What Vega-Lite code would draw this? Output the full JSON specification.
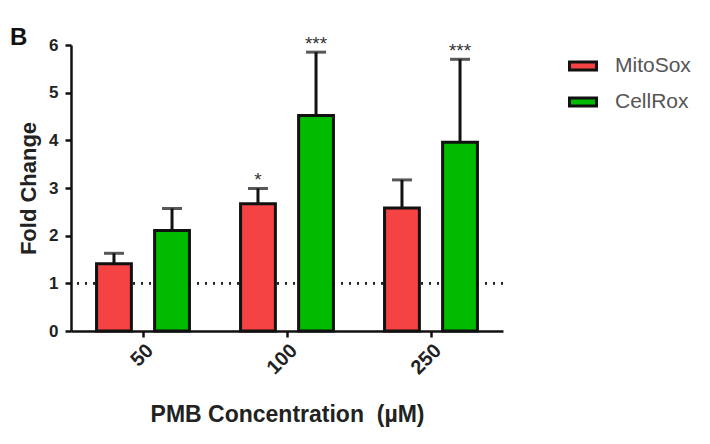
{
  "$schema": "https://vega.github.io/schema/vega-lite/v6.json",
  "width": 432,
  "height": 286,
  "autosize": {"type": "none"},
  "padding": {"left": 71, "top": 45, "right": 207, "bottom": 113},
  "background": "white",
  "title": {"text": "B", "anchor": "start", "frame": "group", "dx": -61, "dy": 17, "offset": 2, "fontSize": 24, "fontWeight": "bold", "font": "Liberation Sans", "color": "#111"},
  "data": {
    "values": [
      {"conc": "50", "probe": "MitoSox", "mean": 1.41, "upper": 1.63, "star": ""},
      {"conc": "50", "probe": "CellRox", "mean": 2.11, "upper": 2.57, "star": ""},
      {"conc": "100", "probe": "MitoSox", "mean": 2.67, "upper": 2.99, "star": "*"},
      {"conc": "100", "probe": "CellRox", "mean": 4.52, "upper": 5.85, "star": "***"},
      {"conc": "250", "probe": "MitoSox", "mean": 2.58, "upper": 3.17, "star": ""},
      {"conc": "250", "probe": "CellRox", "mean": 3.96, "upper": 5.70, "star": "***"}
    ]
  },
  "config": {
    "view": {"stroke": null},
    "font": "Liberation Sans",
    "axis": {"grid": false, "domainColor": "#111", "tickColor": "#111", "domainWidth": 2.5, "tickWidth": 2.5, "tickSize": 6, "labelColor": "#222", "labelFont": "Liberation Sans", "labelFontWeight": "bold", "labelFontSize": 17, "titleFont": "Liberation Sans", "titleFontWeight": "bold", "titleFontSize": 22, "titleColor": "#222"}
  },
  "encoding": {
    "x": {"field": "conc", "type": "ordinal", "sort": ["50", "100", "250"], "scale": {"paddingInner": 0, "paddingOuter": 0},
      "axis": {"title": "PMB Concentration \u00a0(µM)", "labelAngle": -45, "labelFontSize": 20, "labelPadding": 3, "titlePadding": 26, "titleFontSize": 23}},
    "xOffset": {"field": "probe", "type": "nominal", "sort": ["MitoSox", "CellRox"], "scale": {"paddingInner": 0.4, "paddingOuter": 0.44}}
  },
  "layer": [
    {
      "mark": {"type": "rule", "strokeDash": [2, 6], "strokeWidth": 2, "color": "#222"},
      "encoding": {"y": {"datum": 1, "type": "quantitative"}, "x": null, "xOffset": null}
    },
    {
      "mark": {"type": "rule", "strokeWidth": 3, "color": "#111"},
      "encoding": {"y": {"field": "mean", "type": "quantitative"}, "y2": {"field": "upper"}}
    },
    {
      "mark": {"type": "tick", "thickness": 3, "size": 20, "color": "#111", "orient": "horizontal"},
      "encoding": {"y": {"field": "upper", "type": "quantitative"}}
    },
    {
      "mark": {"type": "bar", "stroke": "#111", "strokeWidth": 3},
      "encoding": {
        "y": {"field": "mean", "type": "quantitative", "scale": {"domain": [0, 6], "nice": false},
          "axis": {"title": "Fold Change", "values": [0, 1, 2, 3, 4, 5, 6], "format": "d", "titlePadding": 8, "labelPadding": 7}},
        "color": {"field": "probe", "type": "nominal", "sort": ["MitoSox", "CellRox"],
          "scale": {"domain": ["MitoSox", "CellRox"], "range": ["#f54343", "#00bb00"]},
          "legend": {"title": null, "orient": "none", "legendX": 497, "legendY": 6, "symbolType": "M-1,-0.3H1V0.3H-1Z", "symbolSize": 729, "symbolStrokeColor": "#111", "symbolStrokeWidth": 3, "symbolOpacity": 1, "labelFontSize": 21, "labelColor": "#555", "labelOffset": 17, "rowPadding": 10, "labelFont": "Liberation Sans"}}
      }
    },
    {
      "mark": {"type": "text", "baseline": "alphabetic", "dy": -2, "fontSize": 19, "color": "#333"},
      "encoding": {"y": {"field": "upper", "type": "quantitative"}, "text": {"field": "star"}}
    }
  ]
}
